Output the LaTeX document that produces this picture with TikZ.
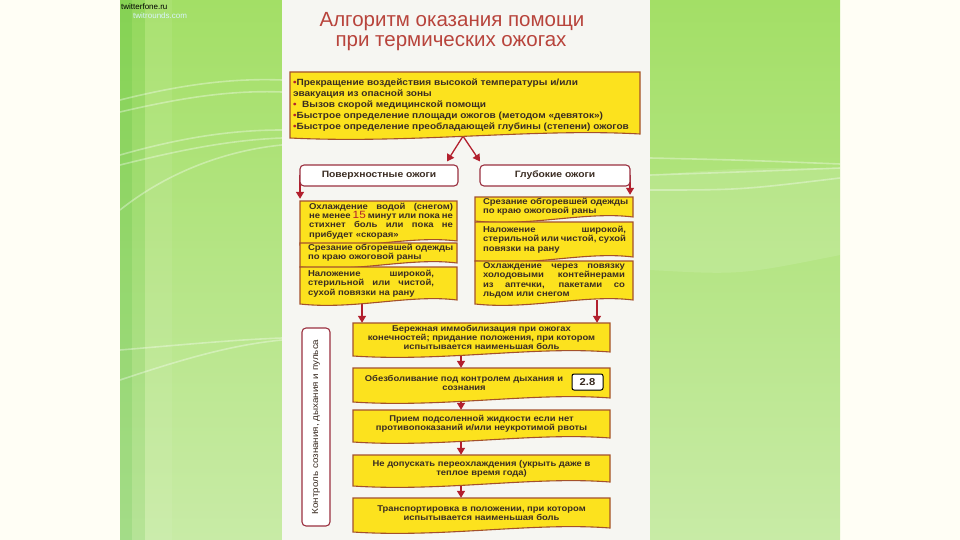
\documentclass[tikz,border=0pt]{standalone}
\usepackage{fontspec}
\setmainfont{Liberation Sans}
\newfontfamily\tx[FakeStretch=1.12]{Liberation Sans}
\usetikzlibrary{arrows.meta,calc}
\pgfdeclarelayer{bg}
\pgfdeclarelayer{lines}
\pgfsetlayers{bg,lines,main}
\definecolor{bgc}{HTML}{FFFEF5}
\definecolor{paper}{HTML}{F6F6F2}
\definecolor{gtop}{HTML}{A3DF66}
\definecolor{gbot}{HTML}{C8EBA6}
\definecolor{yel}{HTML}{FCE21E}
\definecolor{brd}{HTML}{A4512C}
\definecolor{arrc}{HTML}{B2202E}
\definecolor{ttl}{HTML}{B8443C}
\definecolor{txt}{HTML}{3A2C22}
\definecolor{hbrd}{HTML}{9A3040}
\tikzset{
  docshape/.style={fill=yel, draw=brd, line width=1.1pt},
  doctext/.style={draw=none, inner sep=0pt, text=txt,
    font=\tx\fontsize{8.5}{9.3}\selectfont\bfseries},
  dbopt/.style={},
  toptext/.style={font=\tx\fontsize{9}{10.8}\selectfont\bfseries, yshift=-2pt},
  chaintext/.style={font=\tx\fontsize{8.4}{8.7}\selectfont\bfseries},
  arrowline/.style={draw=arrc, line width=1.3pt, -{Triangle[length=7pt,width=8pt]}},
  headbox/.style={draw=hbrd, fill=white, rounded corners=4pt, line width=1.1pt,
    text=txt, inner sep=0pt},
  wave/.style={draw=white, line width=1.6pt, opacity=0.35},
}
% name, x1, y1, x2, y2, left offset, text width, text  (extra options via style dbopt)
\newcommand\docbox[8]{%
  \pgfmathsetmacro\dbw{#4-#2}%
  \pgfmathsetmacro\dbh{#5-#3}%
  \path[docshape] (#2,#3) -- (#4,#3) -- (#4,#5)
    .. controls ({#4-0.3*(#4-#2)},{#5-6}) and ({#2+0.35*(#4-#2)},{#5+10}) .. (#2,{#5+4}) -- cycle;
  \node[doctext, dbopt, minimum width=\dbw pt, minimum height=\dbh pt] (#1)
    at ({(#2+#4)/2},{(#3+#5)/2})
    {\makebox[\dbw pt][l]{\hspace*{#6pt}\parbox{#7pt}{#8}}};
}
\begin{document}
\begin{tikzpicture}[x=1pt,y=-1pt]
\useasboundingbox (0,0) rectangle (960,540);
\begin{pgfonlayer}{bg}
  \fill[bgc] (0,0) rectangle (960,540);
  % left green panel
  \shade[top color=gtop, bottom color=gbot] (120,0) rectangle (282,540);
  \fill[black!40!green, opacity=0.18] (120,0) rectangle (132,540);
  \fill[black!40!green, opacity=0.09] (132,0) rectangle (145,540);
  \fill[white, opacity=0.07] (145,0) rectangle (172,540);
  \draw[wave] (120,100) .. controls (180,85) and (230,78) .. (282,80);
  \draw[wave] (120,112) .. controls (180,98) and (230,90) .. (282,92);
  \draw[wave] (120,155) .. controls (180,138) and (230,130) .. (282,130);
  \draw[wave] (120,165) .. controls (180,150) and (230,140) .. (282,138);
  \draw[wave] (120,210) .. controls (170,170) and (230,150) .. (282,145);
  \draw[wave] (120,350) .. controls (180,345) and (230,340) .. (282,338);
  \draw[wave] (120,380) .. controls (180,360) and (230,345) .. (282,340);
  % paper
  \fill[paper] (282,0) rectangle (650,540);
  % right green panel
  \shade[top color=gtop, bottom color=gbot] (650,0) rectangle (840,540);
  \fill[white, opacity=0.12] (650,175) .. controls (740,168) .. (840,168)
     -- (840,255) .. controls (740,275) .. (650,270) -- cycle;
  \draw[wave] (650,158) .. controls (740,160) .. (840,164);
  \draw[wave] (650,175) .. controls (740,172) .. (840,168);
  \draw[wave] (650,190) .. controls (740,190) .. (840,178);
\end{pgfonlayer}

% watermark
\node[anchor=west, inner sep=0pt, font=\fontsize{8}{8}\selectfont] (wm1) at (121,7) {twitterfone.ru};
\node[anchor=west, inner sep=0pt, text=cyan!15!white, font=\fontsize{8}{8}\selectfont] (wm2) at (133,16) {twitrounds.com};

% title
\node[text=ttl, font=\fontsize{20.5}{22}\selectfont] (t1) at (452,22) {Алгоритм оказания помощи};
\node[text=ttl, font=\fontsize{20.5}{22}\selectfont] (t2) at (451,43) {при термических ожогах};

% top box
\tikzset{dbopt/.style={toptext}}
\docbox{T}{290}{72}{640}{134}{3}{346}{\raggedright
{\color{arrc}•}Прекращение воздействия высокой температуры и/или\\
эвакуация из опасной зоны\\
{\color{arrc}•}\ \ Вызов скорой медицинской помощи\\
{\color{arrc}•}Быстрое определение площади ожогов (методом «девяток»)\\
{\color{arrc}•}Быстрое определение преобладающей глубины (степени) ожогов}
\tikzset{dbopt/.style={}}

% category boxes
\node[headbox, minimum width=158pt, minimum height=21pt,
  font=\tx\fontsize{9.2}{9}\selectfont\bfseries] (P) at (379,175.5) {Поверхностные ожоги};
\node[headbox, minimum width=150pt, minimum height=21pt,
  font=\tx\fontsize{9.2}{9}\selectfont\bfseries] (G) at (555,175.5) {Глубокие ожоги};

% left column
\docbox{L1}{300}{201}{457}{241}{9}{144}{Охлаждение водой (снегом)\linebreak
не менее {\mdseries\color{arrc}\fontsize{10.5}{9.3}\selectfont 15} минут или пока не\linebreak
стихнет боль или пока не\linebreak прибудет «скорая»}
\docbox{L2}{300}{243}{457}{263}{8}{146}{\raggedright Срезание обгоревшей одежды\\по краю ожоговой раны}
\docbox{L3}{300}{267}{457}{300}{8}{126}{Наложение широкой,\linebreak
стерильной или чистой,\linebreak сухой повязки на рану}

% right column
\docbox{R1}{475}{197}{633}{217}{8}{146}{\raggedright Срезание обгоревшей одежды\\по краю ожоговой раны}
\docbox{R2}{475}{222}{633}{257}{8}{143}{Наложение широкой,\linebreak
стерильной или чистой, сухой\linebreak повязки на рану}
\docbox{R3}{475}{261}{633}{300}{8}{142}{Охлаждение через повязку\linebreak
холодовыми контейнерами\linebreak из аптечки, пакетами со\linebreak льдом или снегом}

% main chain
\tikzset{dbopt/.style={chaintext}}
\docbox{B1}{353}{323}{610}{352}{0}{257}{\centering Бережная иммобилизация при ожогах\\
конечностей; придание положения, при котором\\ испытывается наименьшая боль}
\docbox{B2}{353}{368}{610}{398}{11}{200}{\centering Обезболивание под контролем дыхания и\\сознания}
\docbox{B3}{353}{410}{610}{438}{0}{257}{\centering Прием подсоленной жидкости если нет\\
противопоказаний и/или неукротимой рвоты}
\docbox{B4}{353}{455}{610}{482}{0}{257}{\centering Не допускать переохлаждения (укрыть даже в\\
теплое время года)}
\docbox{B5}{353}{498}{610}{528}{0}{257}{\centering Транспортировка в положении, при котором\\
испытывается наименьшая боль}
\tikzset{dbopt/.style={}}

\node[draw=black, fill=white, rounded corners=2pt, line width=1pt, inner sep=0pt,
  minimum width=31pt, minimum height=16pt, text=txt,
  font=\tx\fontsize{10}{10}\selectfont\bfseries] (N28) at (587.5,382) {2.8};

% vertical control box
\node[headbox, rotate=90, minimum width=198pt, minimum height=28pt,
  font=\tx\fontsize{8.8}{10}\selectfont] (V) at (316,427) {Контроль сознания, дыхания и пульса};

% connectors
\coordinate (ap) at (463,0);
\coordinate (pl) at (447,0);
\coordinate (gl) at (480,0);
\coordinate (cl) at (362,0);
\coordinate (cr) at (597,0);
\coordinate (cm) at (461,0);
\coordinate (pc) at (300,0);
\coordinate (gc) at (630,0);
\begin{pgfonlayer}{lines}
  \draw[arrowline] (T.south -| ap) -- ([yshift=3pt]P.north -| pl);
  \draw[arrowline] (T.south -| ap) -- ([yshift=3pt]G.north -| gl);
  \draw[arrowline] (P.center -| pc) -- ([yshift=2pt]L1.north -| pc);
  \draw[arrowline] (G.center -| gc) -- ([yshift=2pt]R1.north -| gc);
  \draw[arrowline] (L3.south -| cl) -- (B1.north -| cl);
  \draw[arrowline] (R3.south -| cr) -- (B1.north -| cr);
  \draw[arrowline] (B1.south -| cm) -- (B2.north -| cm);
  \draw[arrowline] (B2.south -| cm) -- (B3.north -| cm);
  \draw[arrowline] (B3.south -| cm) -- (B4.north -| cm);
  \draw[arrowline] (B4.south -| cm) -- (B5.north -| cm);
\end{pgfonlayer}
\end{tikzpicture}
\end{document}
